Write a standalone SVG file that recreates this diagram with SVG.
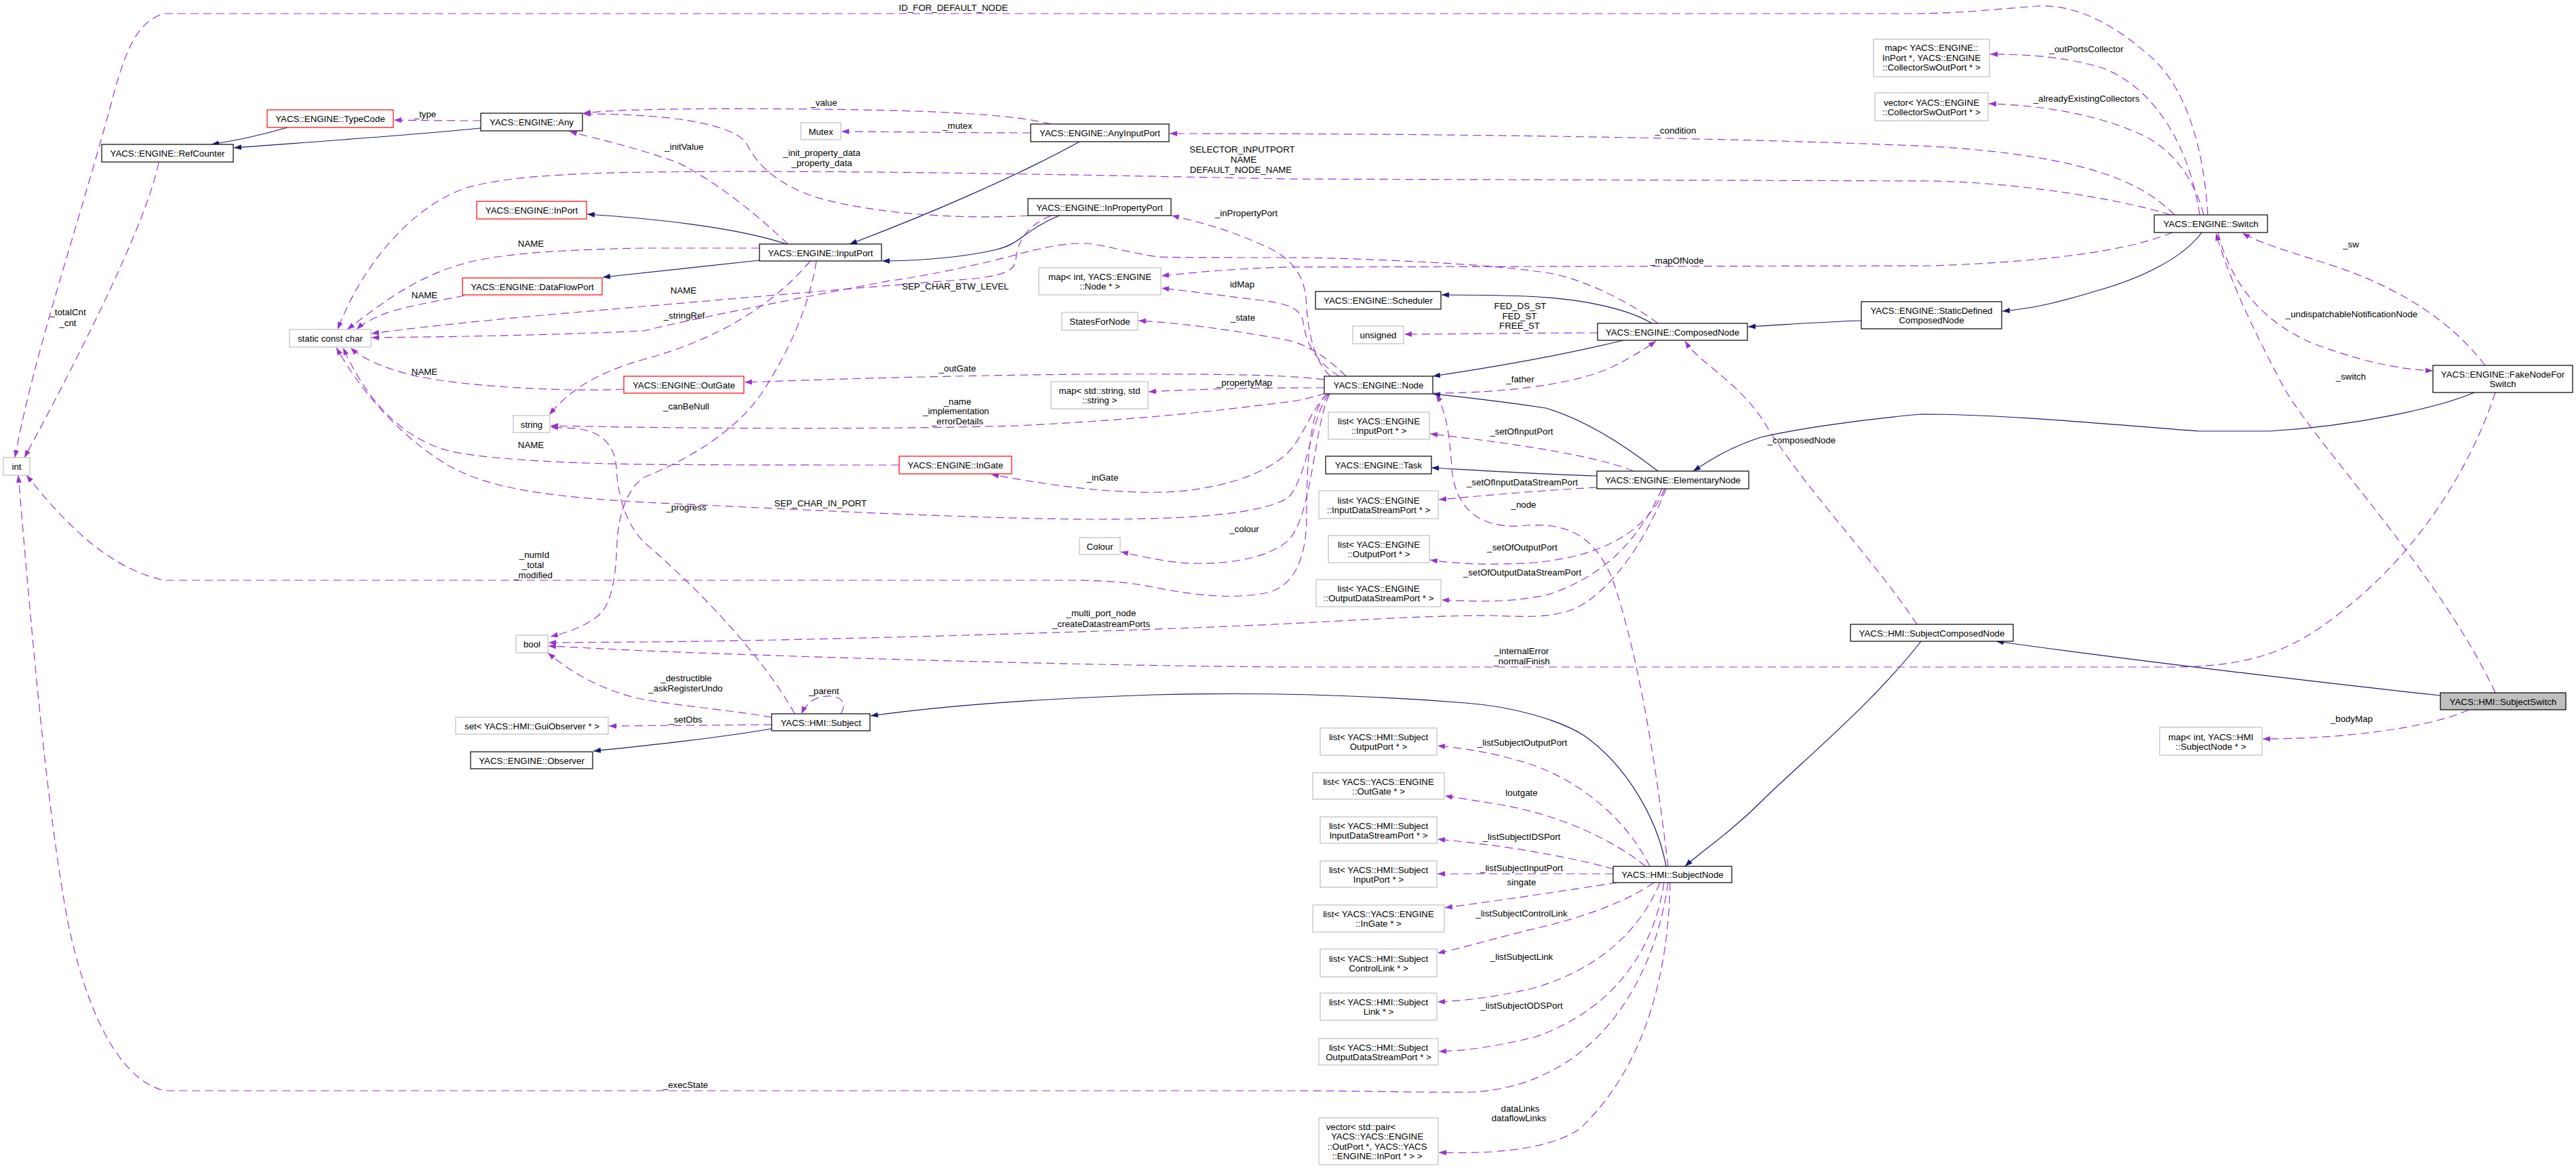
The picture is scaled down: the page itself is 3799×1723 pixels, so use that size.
<svg xmlns="http://www.w3.org/2000/svg" width="3799" height="1723" viewBox="0 0 3799 1723">
<style>
text{font-family:"Liberation Sans",Arial,Helvetica,sans-serif;font-size:13.3px;text-anchor:middle;fill:#000}
.n rect{fill:#fff;stroke:#000;stroke-width:1.2}
.g rect{stroke:#bfbfbf}
.r rect{stroke:#ff0000}
.f rect{fill:#bfbfbf}
.d path{fill:none;stroke:#9a32cd;stroke-width:1.2;stroke-dasharray:12,7}
.s path{fill:none;stroke:#191970;stroke-width:1.2}
</style>
<defs>
<marker id="ap" markerWidth="12" markerHeight="9" refX="11" refY="4" orient="auto" markerUnits="userSpaceOnUse"><path d="M0,0 L11,4 L0,8 z" fill="#9a32cd" stroke="none"/></marker>
<marker id="an" markerWidth="12" markerHeight="9" refX="11" refY="4" orient="auto" markerUnits="userSpaceOnUse"><path d="M0,0 L11,4 L0,8 z" fill="#191970" stroke="none"/></marker>
</defs>
<rect width="3799" height="1723" fill="#fff"/>
<g id="connectors">
<g class="s">
<path marker-end="url(#an)" d="M424,188 C390,198 350,207 312,213"/>
<path marker-end="url(#an)" d="M709,189 C600,200 450,210 345,218"/>
<path marker-end="url(#an)" d="M1160,360 C1100,340 1000,325 866,316"/>
<path marker-end="url(#an)" d="M1120,384 C1050,392 950,402 889,409"/>
<path marker-end="url(#an)" d="M1592,209 C1500,260 1360,320 1253,360"/>
<path marker-end="url(#an)" d="M1562,318 C1510,340 1505,360 1470,368 C1420,380 1350,385 1301,385"/>
<path marker-end="url(#an)" d="M1138,1075 C1050,1090 950,1100 875,1108"/>
<path marker-end="url(#an)" d="M2436,477 C2400,455 2330,440 2250,437 C2200,435 2160,435 2126,435"/>
<path marker-end="url(#an)" d="M2394,502 C2300,525 2180,545 2113,555"/>
<path marker-end="url(#an)" d="M2445,695 C2400,660 2340,620 2280,602 C2200,590 2150,585 2113,581"/>
<path marker-end="url(#an)" d="M2355,702 C2280,700 2200,695 2111,690"/>
<path marker-end="url(#an)" d="M2745,473 C2680,475 2620,480 2578,482"/>
<path marker-end="url(#an)" d="M3247,343 C3220,380 3160,410 3092,429 C3040,445 3000,455 2953,459"/>
<path marker-end="url(#an)" d="M3649,579 C3600,600 3480,628 3347,636 L3244,636 C3100,625 2950,611 2833,611 C2730,620 2640,635 2597,645 C2550,660 2520,680 2497,695"/>
<path marker-end="url(#an)" d="M3599,1026 C3450,1010 3150,975 2944,946"/>
<path marker-end="url(#an)" d="M2833,946 C2760,1040 2650,1130 2600,1180 C2550,1230 2510,1255 2485,1278"/>
<path marker-end="url(#an)" d="M2457,1278 C2445,1210 2400,1130 2336,1085 C2300,1062 2230,1042 2161,1037 C2050,1028 1900,1020 1700,1025 C1550,1030 1400,1040 1284,1056"/>
</g>
<g class="d">
<path marker-end="url(#ap)" d="M3256,317 C3250,220 3225,125 3165,78 C3110,30 3055,6 3004,9 C2950,13 2890,20 2820,20 L242,20 C200,32 185,80 170,130 C120,320 50,520 22,675"/>
<path marker-end="url(#ap)" d="M234,240 C215,330 125,510 36,675"/>
<path marker-end="url(#ap)" d="M1958,581 C1932,600 1927,680 1927,760 C1927,830 1905,865 1870,874 C1820,885 1760,878 1700,866 C1660,858 1620,856 1580,856 L242,856 C170,840 110,790 39,701"/>
<path marker-end="url(#ap)" d="M2460,1302 C2440,1450 2350,1600 2173,1611 C2100,1612 2000,1609 1900,1609 L242,1609 C170,1590 125,1480 100,1360 C70,1200 48,950 27,701"/>
<path marker-end="url(#ap)" d="M1195,385 C1140,450 1060,500 950,530 C880,550 840,575 810,612"/>
<path marker-end="url(#ap)" d="M1204,385 C1190,470 1150,540 1120,585 C1080,640 1010,680 950,704 C925,720 912,760 910,800 C908,860 900,895 880,910 C860,925 840,932 812,939"/>
<path marker-end="url(#ap)" d="M1172,1053 C1120,960 1020,860 950,800 C922,772 911,730 909,690 C907,655 885,636 850,632 L812,630"/>
<path marker-end="url(#ap)" d="M1955,580 C1930,588 1910,592 1890,594 C1800,605 1700,618 1500,628 C1300,634 1000,632 812,628"/>
<path marker-end="url(#ap)" d="M1953,560 C1900,553 1800,551 1600,552 C1400,554 1200,560 1098,564"/>
<path marker-end="url(#ap)" d="M1953,572 C1850,572 1760,574 1694,578"/>
<path marker-end="url(#ap)" d="M1985,555 C1950,520 1920,505 1890,500 C1820,488 1760,478 1679,473"/>
<path marker-end="url(#ap)" d="M1975,555 C1935,530 1925,500 1922,475 C1918,455 1900,448 1860,443 C1800,436 1760,430 1713,425"/>
<path marker-end="url(#ap)" d="M1962,555 C1935,530 1928,480 1926,440 C1922,400 1900,380 1870,365 C1820,342 1780,330 1728,318"/>
<path marker-end="url(#ap)" d="M1958,581 C1935,600 1925,640 1900,667 C1860,705 1790,722 1720,726 C1640,728 1560,718 1462,700"/>
<path marker-end="url(#ap)" d="M1960,581 C1935,610 1930,700 1900,734 C1850,765 1700,766 1600,766 C1400,764 1150,750 950,741 C800,732 720,720 660,686 C600,650 540,590 496,513"/>
<path marker-end="url(#ap)" d="M1961,581 C1938,625 1936,760 1900,797 C1870,825 1800,835 1740,830 C1710,827 1680,820 1653,814"/>
<path marker-end="url(#ap)" d="M1326,686 C1200,686 1050,686 950,685 C850,684 720,678 666,666 C600,650 545,600 506,513"/>
<path marker-end="url(#ap)" d="M920,574 C850,578 700,572 620,556 C570,545 535,530 517,513"/>
<path marker-end="url(#ap)" d="M1120,366 L950,366 C850,368 740,372 680,390 C610,410 560,450 512,486"/>
<path marker-end="url(#ap)" d="M685,436 C640,445 580,455 555,468 C540,475 532,480 526,486"/>
<path marker-end="url(#ap)" d="M1550,318 C1510,335 1500,360 1498,385 C1495,405 1460,410 1400,414 C1200,430 950,452 800,465 C680,476 600,485 548,492"/>
<path marker-end="url(#ap)" d="M2445,477 C2410,450 2330,405 2263,400 C2200,390 2000,380 1900,380 C1800,380 1740,380 1707,379 C1650,370 1620,358 1592,359 C1560,360 1540,366 1520,370 C1450,390 1350,410 1313,414 C1150,445 1000,475 950,488 C800,495 650,497 548,498"/>
<path marker-end="url(#ap)" d="M3201,317 C3150,300 3000,270 2850,267 L1900,264 C1600,258 1200,250 950,254 C800,256 720,265 680,280 C600,310 530,400 498,486"/>
<path marker-end="url(#ap)" d="M3207,317 C3160,270 3080,230 2850,216 C2600,205 2200,197 1725,197"/>
<path marker-end="url(#ap)" d="M3244,317 C3230,220 3180,130 3100,100 C3040,82 2980,80 2935,80"/>
<path marker-end="url(#ap)" d="M3250,317 C3235,260 3200,215 3150,195 C3080,165 3000,155 2933,153"/>
<path marker-end="url(#ap)" d="M3204,343 C3150,365 3050,385 2850,392 L1900,394 C1820,396 1760,402 1713,407"/>
<path marker-end="url(#ap)" d="M3665,539 C3620,480 3550,430 3450,395 C3390,375 3340,362 3307,344"/>
<path marker-end="url(#ap)" d="M3271,343 C3290,420 3340,480 3420,510 C3490,535 3540,545 3588,547"/>
<path marker-end="url(#ap)" d="M3680,1022 C3600,850 3420,660 3370,575 C3330,500 3290,420 3268,344"/>
<path marker-end="url(#ap)" d="M3680,579 C3640,700 3560,820 3450,905 C3380,960 3320,984 3200,984 L1900,984 C1600,982 1200,970 950,960 L809,953"/>
<path marker-end="url(#ap)" d="M2457,721 C2430,790 2380,870 2324,897 C2290,912 2250,910 2200,908 C2100,908 2000,915 1900,920 C1700,930 1200,945 950,947 L809,948"/>
<path marker-end="url(#ap)" d="M1138,1058 C1080,1048 990,1040 940,1030 C880,1015 840,990 808,963"/>
<path marker-end="url(#ap)" d="M1138,1069 L898,1071"/>
<path marker-end="url(#ap)" d="M1240,1053 C1248,1040 1245,1029 1225,1027 C1205,1026 1190,1035 1182,1053"/>
<path marker-end="url(#ap)" d="M1550,183 C1500,170 1400,163 1200,161 C1000,159 900,162 860,167"/>
<path marker-end="url(#ap)" d="M1520,196 C1400,196 1300,194 1241,194"/>
<path marker-end="url(#ap)" d="M1162,360 C1120,320 1060,270 1000,240 C930,215 880,205 840,194"/>
<path marker-end="url(#ap)" d="M1516,318 C1450,323 1300,320 1200,290 C1130,265 1110,230 1100,210 C1080,185 1000,168 860,168"/>
<path marker-end="url(#ap)" d="M709,178 C680,178 620,178 581,177"/>
<path marker-end="url(#ap)" d="M2113,580 C2200,580 2320,570 2380,540 C2410,525 2430,512 2442,503"/>
<path marker-end="url(#ap)" d="M2827,921 C2760,820 2660,720 2600,620 C2560,560 2505,535 2485,503"/>
<path marker-end="url(#ap)" d="M2356,491 C2250,491 2150,493 2071,493"/>
<path marker-end="url(#ap)" d="M2460,1278 C2445,1150 2420,980 2380,860 C2350,780 2300,770 2240,776 C2180,778 2150,750 2142,700 C2138,650 2135,610 2118,582"/>
<path marker-end="url(#ap)" d="M2409,695 C2350,670 2200,650 2109,640"/>
<path marker-end="url(#ap)" d="M2355,719 C2280,723 2200,730 2122,737"/>
<path marker-end="url(#ap)" d="M2455,721 C2430,780 2370,820 2263,830 C2200,834 2150,832 2109,826"/>
<path marker-end="url(#ap)" d="M2451,721 C2420,790 2370,850 2280,878 C2220,890 2170,887 2126,885"/>
<path marker-end="url(#ap)" d="M2433,1278 C2400,1210 2330,1150 2250,1125 C2200,1110 2160,1104 2120,1100"/>
<path marker-end="url(#ap)" d="M2427,1278 C2380,1240 2300,1200 2200,1185 C2170,1180 2150,1177 2131,1174"/>
<path marker-end="url(#ap)" d="M2380,1282 C2300,1260 2200,1245 2120,1238"/>
<path marker-end="url(#ap)" d="M2379,1289 L2120,1289"/>
<path marker-end="url(#ap)" d="M2385,1302 C2300,1315 2200,1330 2131,1339"/>
<path marker-end="url(#ap)" d="M2439,1302 C2400,1330 2330,1355 2263,1370 C2200,1385 2160,1398 2120,1406"/>
<path marker-end="url(#ap)" d="M2448,1302 C2420,1370 2360,1430 2260,1458 C2200,1472 2160,1476 2120,1478"/>
<path marker-end="url(#ap)" d="M2454,1302 C2440,1400 2380,1490 2263,1530 C2200,1545 2160,1550 2122,1551"/>
<path marker-end="url(#ap)" d="M2463,1302 C2460,1450 2420,1580 2330,1665 C2280,1700 2180,1702 2122,1700"/>
<path marker-end="url(#ap)" d="M3641,1047 C3580,1075 3450,1090 3337,1090"/>
</g>
<g id="edge-labels">
<text x="1406" y="16">ID_FOR_DEFAULT_NODE</text>
<text x="100" y="465">_totalCnt</text><text x="100" y="481">_cnt</text>
<text x="788" y="823">_numId</text><text x="786" y="838">_total</text><text x="786" y="853">_modified</text>
<text x="1011" y="1605">_execState</text>
<text x="1009" y="470">_stringRef</text>
<text x="1012" y="604">_canBeNull</text>
<text x="1012" y="753">_progress</text>
<text x="1412" y="597">_name</text><text x="1410" y="611">_implementation</text><text x="1412" y="626">_errorDetails</text>
<text x="1412" y="548">_outGate</text>
<text x="1835" y="569">_propertyMap</text>
<text x="1833" y="473">_state</text>
<text x="1832" y="424">idMap</text>
<text x="1838" y="319">_inPropertyPort</text>
<text x="1626" y="709">_inGate</text>
<text x="1835" y="785">_colour</text>
<text x="1210" y="747">SEP_CHAR_IN_PORT</text>
<text x="783" y="661">NAME</text>
<text x="626" y="553">NAME</text>
<text x="783" y="364">NAME</text>
<text x="626" y="440">NAME</text>
<text x="1008" y="433">NAME</text>
<text x="1409" y="427">SEP_CHAR_BTW_LEVEL</text>
<text x="1832" y="225">SELECTOR_INPUTPORT</text><text x="1834" y="240">NAME</text><text x="1830" y="255">DEFAULT_NODE_NAME</text>
<text x="2471" y="197">_condition</text>
<text x="3077" y="77">_outPortsCollector</text>
<text x="3077" y="150">_alreadyExistingCollectors</text>
<text x="2473" y="389">_mapOfNode</text>
<text x="3467" y="365">_sw</text>
<text x="3468" y="468">_undispatchableNotificationNode</text>
<text x="3467" y="560">_switch</text>
<text x="2244" y="965">_internalError</text><text x="2244" y="980">_normalFinish</text>
<text x="1624" y="909">_multi_port_node</text><text x="1624" y="925">_createDatastreamPorts</text>
<text x="1012" y="1005">_destructible</text><text x="1011" y="1020">_askRegisterUndo</text>
<text x="1011" y="1066">_setObs</text>
<text x="1215" y="1024">_parent</text>
<text x="1215" y="156">_value</text>
<text x="1412" y="190">_mutex</text>
<text x="1009" y="221">_initValue</text>
<text x="1212" y="230">_init_property_data</text><text x="1212" y="245">_property_data</text>
<text x="627" y="173">_type</text>
<text x="2242" y="564">_father</text>
<text x="2657" y="654">_composedNode</text>
<text x="2242" y="456">FED_DS_ST</text><text x="2241" y="471">FED_ST</text><text x="2241" y="485">FREE_ST</text>
<text x="2247" y="749">_node</text>
<text x="2244" y="641">_setOfInputPort</text>
<text x="2245" y="716">_setOfInputDataStreamPort</text>
<text x="2245" y="812">_setOfOutputPort</text>
<text x="2245" y="849">_setOfOutputDataStreamPort</text>
<text x="2245" y="1100">_listSubjectOutputPort</text>
<text x="2244" y="1174">loutgate</text>
<text x="2244" y="1239">_listSubjectIDSPort</text>
<text x="2244" y="1285">_listSubjectInputPort</text>
<text x="2244" y="1306">singate</text>
<text x="2244" y="1352">_listSubjectControlLink</text>
<text x="2244" y="1416">_listSubjectLink</text>
<text x="2244" y="1488">_listSubjectODSPort</text>
<text x="2242" y="1640">dataLinks</text><text x="2240" y="1654">dataflowLinks</text>
<text x="3468" y="1065">_bodyMap</text>
</g>
</g>
<g id="n_int" class="n g"><rect x="5" y="675" width="39" height="26"/><text x="24.5" y="693">int</text></g>
<g id="n_scc" class="n g"><rect x="427" y="486" width="120" height="26"/><text x="487" y="504">static const char</text></g>
<g id="n_string" class="n g"><rect x="757" y="613" width="54" height="25"/><text x="784" y="630.5">string</text></g>
<g id="n_bool" class="n g"><rect x="761" y="937" width="47" height="26"/><text x="784.5" y="955">bool</text></g>
<g id="n_setobs" class="n g"><rect x="672" y="1058" width="225" height="25"/><text x="784.5" y="1075.5">set&lt; YACS::HMI::GuiObserver * &gt;</text></g>
<g id="n_observer" class="n"><rect x="694" y="1109" width="180" height="25"/><text x="784" y="1126.5">YACS::ENGINE::Observer</text></g>
<g id="n_refcounter" class="n"><rect x="150" y="213" width="194" height="26"/><text x="247" y="231">YACS::ENGINE::RefCounter</text></g>
<g id="n_typecode" class="n r"><rect x="394" y="162" width="186" height="26"/><text x="487" y="180">YACS::ENGINE::TypeCode</text></g>
<g id="n_any" class="n"><rect x="709" y="167" width="150" height="26"/><text x="784" y="185">YACS::ENGINE::Any</text></g>
<g id="n_inport" class="n r"><rect x="703" y="297" width="162" height="26"/><text x="784" y="315">YACS::ENGINE::InPort</text></g>
<g id="n_dataflowport" class="n r"><rect x="682" y="410" width="206" height="25"/><text x="785" y="427.5">YACS::ENGINE::DataFlowPort</text></g>
<g id="n_outgate" class="n r"><rect x="920" y="555" width="177" height="25"/><text x="1008.5" y="572.5">YACS::ENGINE::OutGate</text></g>
<g id="n_ingate" class="n r"><rect x="1326" y="673" width="166" height="26"/><text x="1409" y="691">YACS::ENGINE::InGate</text></g>
<g id="n_subject" class="n"><rect x="1138" y="1053" width="145" height="25"/><text x="1210.5" y="1070.5">YACS::HMI::Subject</text></g>
<g id="n_mutex" class="n g"><rect x="1181" y="181" width="59" height="25"/><text x="1210.5" y="198.5">Mutex</text></g>
<g id="n_anyinputport" class="n"><rect x="1520" y="183" width="204" height="26"/><text x="1622" y="201">YACS::ENGINE::AnyInputPort</text></g>
<g id="n_inpropertyport" class="n"><rect x="1516" y="293" width="211" height="25"/><text x="1621.5" y="310.5">YACS::ENGINE::InPropertyPort</text></g>
<g id="n_inputport" class="n"><rect x="1120" y="360" width="180" height="25"/><text x="1210" y="377.5">YACS::ENGINE::InputPort</text></g>
<g id="n_mapidnode" class="n g"><rect x="1532" y="395" width="180" height="40"/><text x="1622" y="413">map&lt; int, YACS::ENGINE</text><text x="1622" y="427">::Node * &gt;</text></g>
<g id="n_statesfornode" class="n g"><rect x="1566" y="461" width="112" height="26"/><text x="1622" y="479">StatesForNode</text></g>
<g id="n_mapstr" class="n g"><rect x="1550" y="563" width="143" height="40"/><text x="1621.5" y="581">map&lt; std::string, std</text><text x="1621.5" y="595">::string &gt;</text></g>
<g id="n_colour" class="n g"><rect x="1592" y="793" width="60" height="25"/><text x="1622" y="810.5">Colour</text></g>
<g id="n_scheduler" class="n"><rect x="1940" y="430" width="185" height="26"/><text x="2032.5" y="448">YACS::ENGINE::Scheduler</text></g>
<g id="n_unsigned" class="n g"><rect x="1995" y="481" width="75" height="26"/><text x="2032.5" y="499">unsigned</text></g>
<g id="n_node" class="n"><rect x="1953" y="555" width="160" height="26"/><text x="2033" y="573">YACS::ENGINE::Node</text></g>
<g id="n_listinputport" class="n g"><rect x="1959" y="608" width="149" height="40"/><text x="2033.5" y="626">list&lt; YACS::ENGINE</text><text x="2033.5" y="640">::InputPort * &gt;</text></g>
<g id="n_task" class="n"><rect x="1955" y="673" width="156" height="26"/><text x="2033" y="691">YACS::ENGINE::Task</text></g>
<g id="n_listids" class="n g"><rect x="1945" y="724" width="176" height="41"/><text x="2033" y="742.5">list&lt; YACS::ENGINE</text><text x="2033" y="756.5">::InputDataStreamPort * &gt;</text></g>
<g id="n_listoutputport" class="n g"><rect x="1959" y="790" width="149" height="40"/><text x="2033.5" y="808">list&lt; YACS::ENGINE</text><text x="2033.5" y="822">::OutputPort * &gt;</text></g>
<g id="n_listods" class="n g"><rect x="1941" y="855" width="184" height="40"/><text x="2033" y="873">list&lt; YACS::ENGINE</text><text x="2033" y="887">::OutputDataStreamPort * &gt;</text></g>
<g id="n_lsop" class="n g"><rect x="1947" y="1074" width="172" height="40"/><text x="2033" y="1092">list&lt; YACS::HMI::Subject</text><text x="2033" y="1106">OutputPort * &gt;</text></g>
<g id="n_lsoutgate" class="n g"><rect x="1936" y="1140" width="194" height="39"/><text x="2033" y="1157.5">list&lt; YACS::YACS::ENGINE</text><text x="2033" y="1171.5">::OutGate * &gt;</text></g>
<g id="n_lsids" class="n g"><rect x="1947" y="1205" width="172" height="39"/><text x="2033" y="1222.5">list&lt; YACS::HMI::Subject</text><text x="2033" y="1236.5">InputDataStreamPort * &gt;</text></g>
<g id="n_lsip" class="n g"><rect x="1947" y="1270" width="172" height="39"/><text x="2033" y="1287.5">list&lt; YACS::HMI::Subject</text><text x="2033" y="1301.5">InputPort * &gt;</text></g>
<g id="n_lsingate" class="n g"><rect x="1936" y="1335" width="194" height="40"/><text x="2033" y="1353">list&lt; YACS::YACS::ENGINE</text><text x="2033" y="1367">::InGate * &gt;</text></g>
<g id="n_lscl" class="n g"><rect x="1947" y="1400" width="172" height="41"/><text x="2033" y="1418.5">list&lt; YACS::HMI::Subject</text><text x="2033" y="1432.5">ControlLink * &gt;</text></g>
<g id="n_lsl" class="n g"><rect x="1947" y="1465" width="172" height="40"/><text x="2033" y="1483">list&lt; YACS::HMI::Subject</text><text x="2033" y="1497">Link * &gt;</text></g>
<g id="n_lsods" class="n g"><rect x="1945" y="1532" width="176" height="39"/><text x="2033" y="1549.5">list&lt; YACS::HMI::Subject</text><text x="2033" y="1563.5">OutputDataStreamPort * &gt;</text></g>
<g id="n_vecpair" class="n g"><rect x="1945" y="1649" width="176" height="69"/><text x="2007" y="1667">vector&lt; std::pair&lt;</text><text x="2031" y="1681">YACS::YACS::ENGINE</text><text x="2031" y="1695.5">::OutPort *, YACS::YACS</text><text x="2031" y="1710">::ENGINE::InPort * &gt; &gt;</text></g>
<g id="n_composed" class="n"><rect x="2356" y="477" width="221" height="25"/><text x="2466.5" y="494.5">YACS::ENGINE::ComposedNode</text></g>
<g id="n_elementary" class="n"><rect x="2355" y="695" width="224" height="26"/><text x="2467" y="713">YACS::ENGINE::ElementaryNode</text></g>
<g id="n_subjcomposed" class="n"><rect x="2729" y="921" width="240" height="25"/><text x="2849" y="938.5">YACS::HMI::SubjectComposedNode</text></g>
<g id="n_subjnode" class="n"><rect x="2379" y="1278" width="175" height="24"/><text x="2466.5" y="1295">YACS::HMI::SubjectNode</text></g>
<g id="n_staticdef" class="n"><rect x="2745" y="445" width="207" height="40"/><text x="2848.5" y="463">YACS::ENGINE::StaticDefined</text><text x="2848.5" y="477">ComposedNode</text></g>
<g id="n_mapcoll" class="n g"><rect x="2763" y="58" width="171" height="55"/><text x="2848.5" y="75">map&lt; YACS::ENGINE::</text><text x="2848.5" y="89.5">InPort *, YACS::ENGINE</text><text x="2848.5" y="104">::CollectorSwOutPort * &gt;</text></g>
<g id="n_veccoll" class="n g"><rect x="2765" y="137" width="167" height="41"/><text x="2848.5" y="155.5">vector&lt; YACS::ENGINE</text><text x="2848.5" y="169.5">::CollectorSwOutPort * &gt;</text></g>
<g id="n_switch" class="n"><rect x="3177" y="317" width="167" height="26"/><text x="3260.5" y="335">YACS::ENGINE::Switch</text></g>
<g id="n_fakenode" class="n"><rect x="3588" y="539" width="206" height="40"/><text x="3691" y="557">YACS::ENGINE::FakeNodeFor</text><text x="3691" y="571">Switch</text></g>
<g id="n_subjswitch" class="n f"><rect x="3599" y="1022" width="185" height="25"/><text x="3691.5" y="1039.5">YACS::HMI::SubjectSwitch</text></g>
<g id="n_bodymap" class="n g"><rect x="3185" y="1073" width="151" height="41"/><text x="3260.5" y="1091.5">map&lt; int, YACS::HMI</text><text x="3260.5" y="1105.5">::SubjectNode * &gt;</text></g>
</svg>
